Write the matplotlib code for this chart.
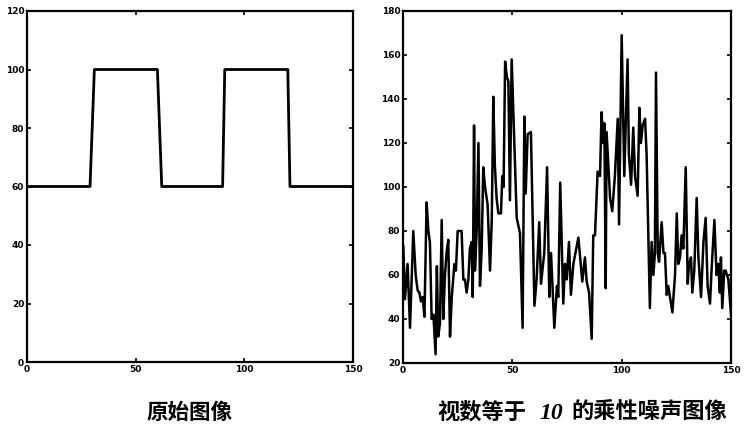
import matplotlib
matplotlib.use("Agg")
import matplotlib.pyplot as plt
import numpy as np

# Left panel: original signal
orig_x = [0, 29, 31, 60, 62, 90, 91, 120, 121, 150]
orig_y = [60, 60, 100, 100, 60, 60, 100, 100, 60, 60]

# Right panel: multiplicative noise signal (vertices)
noisy_x = [0.15, 0.9, 2.1, 3.2, 4.7, 5.8, 6.7, 7.5, 8.2, 9.0, 9.8, 10.8, 11.6, 12.3, 13.1,
           13.9, 14.3, 14.9, 15.5, 16.1, 16.9, 17.7, 18.4, 19.2, 19.9, 20.7, 21.5, 22.3,
           23.5, 24.2, 25.0, 26.1, 26.8, 27.6, 28.3, 29.1, 29.9, 30.6, 31.4, 31.9, 32.5,
           32.9, 33.7, 34.5, 35.2, 36.0, 36.7, 37.5, 38.7, 39.8, 40.6, 41.3, 42.0, 42.8,
           43.6, 44.8, 45.4, 46.0, 46.7, 47.5, 48.2, 48.9, 49.7, 52.0, 53.5, 54.7, 55.5,
           56.1, 57.0, 58.5, 60.1, 61.1, 62.3, 63.1, 64.6, 65.9, 66.9, 67.7, 69.2, 70.4,
           71.0, 71.9, 73.3, 74.1, 74.9, 75.9, 76.8, 77.9, 80.2, 82.0, 83.2, 84.0, 85.1,
           86.3, 87.0, 87.8, 89.0, 90.1, 90.8, 91.6, 92.1, 92.7, 93.1, 94.7, 95.7, 96.9,
           98.2, 98.8, 100.0, 101.2, 102.7, 103.3, 104.3, 105.3, 106.1, 107.3, 108.1,
           108.8, 109.6, 110.7, 111.4, 112.9, 113.7, 114.5, 115.2, 115.7, 116.5, 117.1,
           118.3, 119.1, 119.8, 120.6, 121.3, 122.1, 123.2, 124.4, 125.2, 125.9, 126.7,
           127.4, 128.2, 129.3, 130.2, 130.8, 131.7, 132.3, 133.2, 134.3, 135.1, 136.3,
           137.4, 138.4, 139.3, 140.4, 141.1, 142.4, 143.4, 144.2, 144.9, 145.4, 146.0,
           146.9, 147.5, 148.8, 150.0]
noisy_y = [73, 49, 65, 36, 80, 60, 53, 52, 48, 50, 41, 93, 80, 75, 40,
           42, 35, 24, 64, 32, 38, 85, 40, 60, 70, 76, 32, 50,
           65, 62, 80, 80, 80, 58, 58, 52, 58, 72, 75, 50, 128,
           62, 80, 120, 55, 72, 109, 100, 92, 62, 85, 141, 110, 95,
           88, 88, 105, 100, 157, 150, 148, 94, 158, 86, 79, 36, 132,
           97, 124, 125, 46, 58, 84, 56, 70, 109, 50, 70, 36, 55,
           50, 102, 47, 65, 58, 75, 51, 65, 77, 57, 68, 57, 52,
           31, 78, 78, 107, 105, 134, 120, 129, 54, 125, 95, 89, 105,
           131, 83, 169, 105, 158, 115, 101, 127, 105, 96, 136,
           120, 128, 131, 115, 45, 75, 60, 70, 152, 70, 66,
           84, 70, 70, 51, 55, 50, 43, 60, 88, 65, 68,
           78, 72, 109, 56, 65, 68, 52, 62, 95, 68, 50,
           75, 86, 55, 47, 62, 85, 60, 65, 52, 68, 45,
           62, 62, 58, 42]

left_yticks = [0, 20, 40, 60, 80, 100, 120]
right_yticks = [20, 40, 60, 80, 100, 120, 140, 160, 180]
xticks = [0, 50, 100, 150]

caption_left = "原始图像"
caption_right_a = "视数等于"
caption_right_b = "10"
caption_right_c = "的乘性噪声图像"

fig = plt.figure(figsize=(7.49, 4.33), dpi=100)
fig.patch.set_facecolor("white")

def style(ax):
    for s in ax.spines.values():
        s.set_linewidth(1.6)
    ax.tick_params(direction="in", length=3, width=1.2, top=True, right=True,
                   labelsize=6.5, pad=2)
    for lab in ax.get_xticklabels() + ax.get_yticklabels():
        lab.set_fontweight("bold")

ax1 = fig.add_axes([27/749, (433-362)/433, 326/749, 351/433])
ax1.plot(orig_x, orig_y, color="black", lw=2.0)
ax1.set_xlim(0, 150)
ax1.set_ylim(0, 120)
ax1.set_xticks(xticks)
ax1.set_yticks(left_yticks)
style(ax1)

ax2 = fig.add_axes([403/749, (433-363)/433, 328/749, 352/433])
ax2.plot(noisy_x, noisy_y, color="black", lw=1.8)
ax2.set_xlim(0, 150)
ax2.set_ylim(20, 180)
ax2.set_xticks(xticks)
ax2.set_yticks(right_yticks)
style(ax2)

cjk = ["Noto Sans CJK SC", "DejaVu Sans"]
yc = 1 - 412/433
fig.text(190/749, yc, caption_left, family=cjk, fontsize=15.5,
         weight="bold", ha="center", va="center")

fig.text(437/749, yc, caption_right_a, family=cjk, fontsize=16,
         weight="bold", ha="left", va="center")
fig.text(539/749, yc - 0.004, caption_right_b, family="Liberation Serif", fontsize=17,
         style="italic", weight="bold", ha="left", va="center")
fig.text(571/749, yc, caption_right_c, family=cjk, fontsize=16,
         weight="bold", ha="left", va="center")

fig.savefig("out.png", dpi=100, facecolor="white")
